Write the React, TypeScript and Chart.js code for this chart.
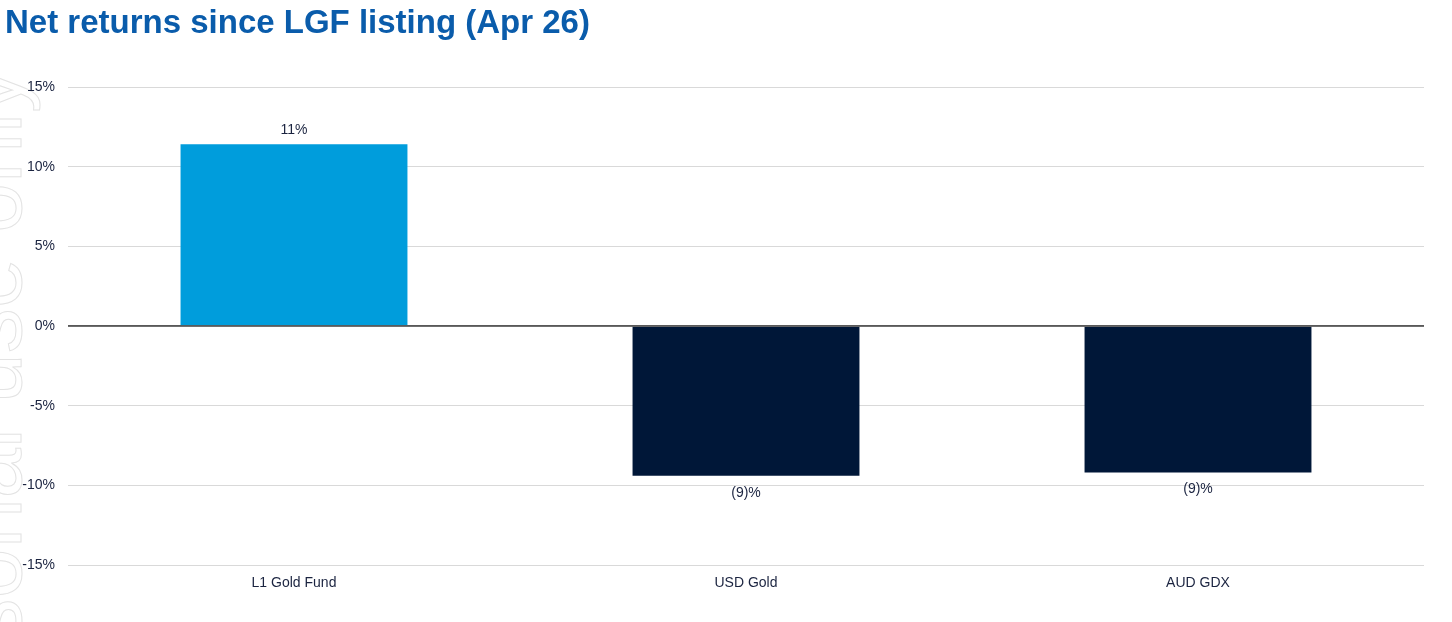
import React, { useEffect, useRef } from "react";
import { Chart, registerables } from "chart.js";

Chart.register(...registerables);

const categories = ["L1 Gold Fund", "USD Gold", "AUD GDX"];
const returnsPct = [11.4, -9.4, -9.2];
const barColors = ["#009DDC", "#001738"];
const yTicks = [-15, -10, -5, 0, 5, 10, 15];
const titleText = "Net returns since LGF listing (Apr 26)";
const watermarkText = "For personal use only";

const FONT = "'Liberation Sans', Arial, sans-serif";

const fmtLabel = (v: number) => {
  const r = Math.round(Math.abs(v));
  return v < 0 ? `(${r})%` : `${r}%`;
};

const watermarkPlugin = {
  id: "watermark",
  beforeDraw(chart: any) {
    const ctx = chart.ctx;
    ctx.save();
    ctx.translate(21, 68);
    ctx.rotate(-Math.PI / 2);
    ctx.font = `90px ${FONT}`;
    ctx.textAlign = "right";
    ctx.textBaseline = "alphabetic";
    ctx.strokeStyle = "#e3e3e3";
    ctx.lineWidth = 1;
    ctx.strokeText(watermarkText, 0, 0);
    ctx.restore();
  },
};

const valueLabelPlugin = {
  id: "valueLabels",
  afterDatasetsDraw(chart: any) {
    const ctx = chart.ctx;
    const area = chart.chartArea;
    const y0 = chart.scales.y.getPixelForValue(0);
    ctx.save();
    ctx.strokeStyle = "#5a5a5a";
    ctx.lineWidth = 1.5;
    ctx.beginPath();
    ctx.moveTo(area.left, y0);
    ctx.lineTo(area.right, y0);
    ctx.stroke();

    const meta = chart.getDatasetMeta(0);
    const data = chart.data.datasets[0].data as number[];
    ctx.font = `14px ${FONT}`;
    ctx.fillStyle = "#1b2440";
    ctx.textAlign = "center";
    meta.data.forEach((bar: any, i: number) => {
      const v = data[i];
      if (v >= 0) {
        ctx.textBaseline = "bottom";
        ctx.fillText(fmtLabel(v), bar.x, bar.y - 7);
      } else {
        ctx.textBaseline = "top";
        ctx.fillText(fmtLabel(v), bar.x, bar.y + 10);
      }
    });
    ctx.restore();
  },
};

export default function App() {
  const ref = useRef<HTMLCanvasElement | null>(null);

  useEffect(() => {
    document.body.style.margin = "0";
    if (!ref.current) return;
    const chart = new Chart(ref.current, {
      type: "bar",
      data: {
        labels: categories,
        datasets: [
          {
            data: returnsPct,
            backgroundColor: returnsPct.map((v) => (v >= 0 ? barColors[0] : barColors[1])),
            categoryPercentage: 1,
            barPercentage: 0.502,
            borderWidth: 0,
          },
        ],
      },
      options: {
        animation: false,
        responsive: false,
        maintainAspectRatio: false,
        layout: { padding: { top: 87, right: 28, bottom: 0, left: 0 } },
        plugins: {
          legend: { display: false },
          title: { display: false },
          tooltip: { enabled: false },
        },
        scales: {
          x: {
            grid: { display: false, drawTicks: false },
            border: { display: false },
            ticks: {
              color: "#1b2440",
              font: { family: FONT, size: 14 },
              padding: 10,
            },
            afterFit: (scale: any) => {
              scale.height = 57;
            },
          },
          y: {
            min: -15,
            max: 15,
            afterBuildTicks: (scale: any) => {
              scale.ticks = yTicks.map((v) => ({ value: v }));
            },
            grid: {
              drawTicks: false,
              color: (c: any) => (c.tick && c.tick.value === 0 ? "#5a5a5a" : "#d9d9d9"),
              lineWidth: (c: any) => (c.tick && c.tick.value === 0 ? 1.5 : 1),
            },
            border: { display: false },
            ticks: {
              color: "#1b2440",
              font: { family: FONT, size: 14 },
              padding: 13,
              callback: (v: any) => `${v}%`,
            },
            afterFit: (scale: any) => {
              scale.width = 68;
            },
          },
        },
      },
      plugins: [watermarkPlugin, valueLabelPlugin],
    });
    return () => chart.destroy();
  }, []);

  return (
    <div style={{ position: "relative", width: 1452, height: 622 }}>
      <canvas ref={ref} width={1452} height={622} style={{ position: "absolute", left: 0, top: 0 }} />
      <div
        style={{
          position: "absolute",
          left: 5,
          top: 2,
          fontFamily: FONT,
          fontWeight: "bold",
          fontSize: 33,
          color: "#0A5CAB",
          whiteSpace: "nowrap",
          lineHeight: "40px",
        }}
      >
        {titleText}
      </div>
    </div>
  );
}
